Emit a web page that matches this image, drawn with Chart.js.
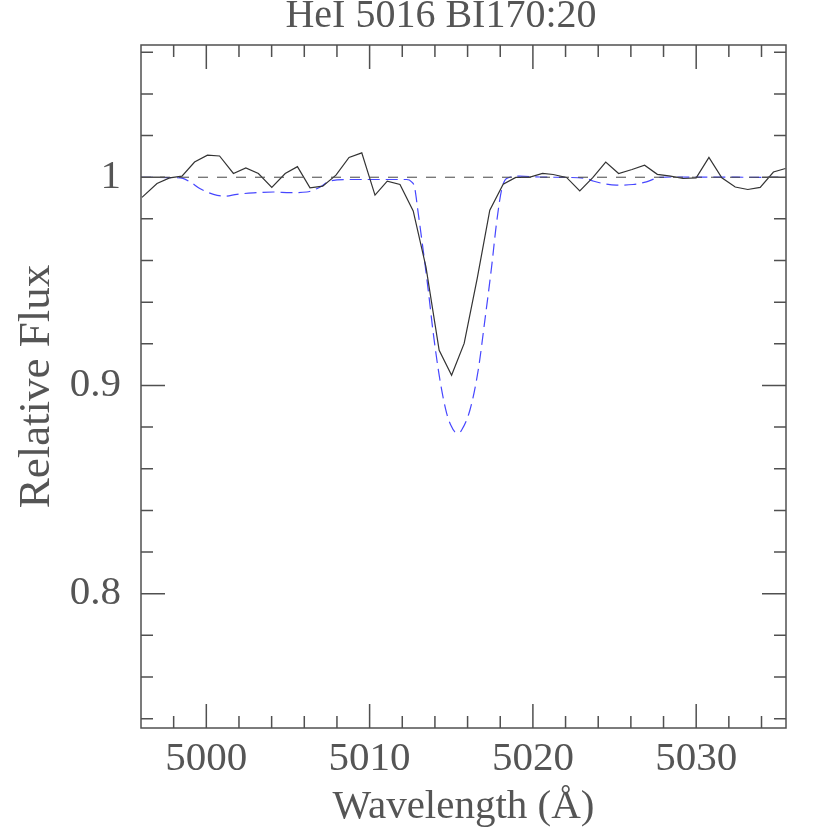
<!DOCTYPE html>
<html>
<head>
<meta charset="utf-8">
<script src="https://cdn.jsdelivr.net/npm/chart.js@4"></script>
<style>
  html, body { margin: 0; padding: 0; background: #fff; }
  canvas { display: block; }
</style>
</head>
<body>
<canvas id="spec" width="830" height="830"></canvas>
<script>
// observed spectrum (wavelength in A, relative flux)
const obsWave = [4996.06, 4996.98, 4997.75, 4998.51, 4999.28, 5000.07, 5000.81, 5001.66, 5002.42, 5003.19,
  5004.01, 5004.83, 5005.58, 5006.35, 5007.13, 5007.94, 5008.74, 5009.52, 5010.33, 5011.08,
  5011.86, 5012.67, 5013.45, 5014.26, 5015.02, 5015.79, 5016.59, 5017.36, 5018.18, 5018.95,
  5019.77, 5020.59, 5021.24, 5022.06, 5022.87, 5023.68, 5024.46, 5025.25, 5026.07, 5026.84,
  5027.62, 5028.43, 5029.19, 5030.00, 5030.78, 5031.57, 5032.39, 5033.16, 5033.92, 5034.73, 5035.47];
const obsFlux = [0.9903, 0.9970, 0.9997, 1.0005, 1.0073, 1.0106, 1.0102, 1.0018, 1.0045, 1.0018,
  0.9951, 1.0018, 1.0051, 0.9949, 0.9957, 1.0010, 1.0095, 1.0117, 0.9914, 0.9981,
  0.9965, 0.9838, 0.9569, 0.9169, 0.9049, 0.9202, 0.9514, 0.9842, 0.9966, 0.9999,
  0.9999, 1.0018, 1.0013, 0.9999, 0.9934, 0.9999, 1.0073, 1.0018, 1.0037, 1.0058,
  1.0014, 1.0005, 0.9994, 0.9997, 1.0095, 0.9997, 0.9953, 0.9941, 0.9951, 1.0025, 1.0042];

// model profile
const modelWave = [4996.0, 4998.4, 4999.0, 4999.6, 5000.44, 5001.16, 5001.87, 5002.89, 5004.11, 5005.13,
  5006.15, 5006.97, 5007.58, 5008.6, 5009.6, 5010.84, 5012.27, 5012.57, 5012.75, 5012.98,
  5013.28, 5013.59, 5013.9, 5014.31, 5014.72, 5015.0, 5015.22, 5015.45, 5015.63, 5016.14,
  5016.65, 5017.06, 5017.47, 5017.77, 5018.08, 5018.39, 5019.2, 5020.42, 5022.06, 5023.28,
  5023.68, 5024.29, 5025.11, 5026.13, 5026.95, 5027.76, 5028.57, 5035.6];
const modelFlux = [0.9999, 0.9997, 0.9978, 0.9946, 0.9918, 0.9909, 0.9918, 0.9925, 0.9929, 0.9926,
  0.9929, 0.9953, 0.9982, 0.9989, 0.9989, 0.9989, 0.9989, 0.9978, 0.9953, 0.9826,
  0.9650, 0.9458, 0.9250, 0.9025, 0.8866, 0.8805, 0.8777, 0.8772, 0.8785, 0.8881,
  0.9073, 0.9314, 0.9569, 0.9778, 0.9938, 0.9994, 1.0005, 1.0001, 0.9999, 0.9994,
  0.9982, 0.9970, 0.9962, 0.9965, 0.9978, 0.9999, 1.0001, 0.9999];

const contWave = [4996.0, 5035.6];
const contFlux = [1.0, 1.0];

const xMajor = [5000, 5010, 5020, 5030];
const xMinor = [4998, 5002, 5004, 5006, 5008, 5012, 5014, 5016, 5018, 5022, 5024, 5026, 5028, 5032, 5034];
const yMajor = [0.8, 0.9, 1];
const yMinor = [0.74, 0.76, 0.78, 0.82, 0.84, 0.86, 0.88, 0.92, 0.94, 0.96, 0.98, 1.02, 1.04, 1.06];

const chartTitle = 'HeI 5016 BI170:20';
const FONT = "'Liberation Serif', 'DejaVu Serif', serif";
const TXT = '#555';

function pts(xs, ys) { return xs.map((x, i) => ({ x: x, y: ys[i] })); }

// frame with inward ticks on all four sides, plus the title
const framePlugin = {
  id: 'frame',
  afterDatasetsDraw(chart) {
    const { ctx, chartArea: a, scales: { x, y } } = chart;
    ctx.save();
    ctx.strokeStyle = '#505050';
    ctx.lineWidth = 1.5;
    ctx.strokeRect(a.left, a.top, a.right - a.left, a.bottom - a.top);
    ctx.beginPath();
    const xt = (vals, len) => vals.forEach(v => {
      const px = x.getPixelForValue(v);
      ctx.moveTo(px, a.bottom); ctx.lineTo(px, a.bottom - len);
      ctx.moveTo(px, a.top); ctx.lineTo(px, a.top + len);
    });
    const yt = (vals, len) => vals.forEach(v => {
      const py = y.getPixelForValue(v);
      ctx.moveTo(a.left, py); ctx.lineTo(a.left + len, py);
      ctx.moveTo(a.right, py); ctx.lineTo(a.right - len, py);
    });
    xt(xMajor, 24); xt(xMinor, 12);
    yt(yMajor, 24); yt(yMinor, 12);
    ctx.stroke();

    // title sits a little left of the plot centre, near the top edge
    ctx.fillStyle = TXT;
    ctx.font = '40px ' + FONT;
    ctx.textAlign = 'center';
    ctx.textBaseline = 'alphabetic';
    ctx.fillText(chartTitle, 441, 27);
    ctx.restore();
  }
};

new Chart(document.getElementById('spec').getContext('2d'), {
  type: 'line',
  data: {
    datasets: [
      { data: pts(contWave, contFlux), borderColor: '#444', borderWidth: 1, borderDash: [10, 9], pointRadius: 0 },
      { data: pts(obsWave, obsFlux), borderColor: '#333', borderWidth: 1.2, pointRadius: 0, tension: 0 },
      { data: pts(modelWave, modelFlux), borderColor: '#4646ff', borderWidth: 1.2, borderDash: [12, 6], pointRadius: 0, cubicInterpolationMode: 'monotone' }
    ]
  },
  options: {
    responsive: false,
    animation: false,
    events: [],
    layout: { padding: { left: 0, right: 44, top: 45, bottom: 0 } },
    plugins: {
      legend: { display: false },
      tooltip: { enabled: false },
      title: { display: false }
    },
    scales: {
      x: {
        type: 'linear',
        min: 4996.0,
        max: 5035.5,
        grid: { display: false, drawTicks: false },
        border: { display: false },
        afterBuildTicks: s => { s.ticks = xMajor.map(v => ({ value: v })); },
        afterFit: s => { s.height = 102; },
        ticks: {
          color: TXT, padding: 7,
          font: { family: FONT, size: 41 },
          callback: v => String(v)
        },
        title: {
          display: true, text: 'Wavelength (Å)', color: TXT,
          font: { family: FONT, size: 41, lineHeight: 1 },
          padding: { top: 0, bottom: 2 }
        }
      },
      y: {
        min: 0.7355,
        max: 1.0635,
        grid: { display: false, drawTicks: false },
        border: { display: false },
        afterBuildTicks: s => { s.ticks = yMajor.map(v => ({ value: v })); },
        afterFit: s => { s.width = 141; },
        ticks: {
          color: TXT, padding: 20,
          font: { family: FONT, size: 41 },
          callback: v => String(v)
        },
        title: {
          display: true, text: 'Relative Flux', color: TXT,
          font: { family: FONT, size: 45, lineHeight: 1 },
          padding: { top: 15, bottom: 15 }
        }
      }
    }
  },
  plugins: [framePlugin]
});
</script>
</body>
</html>
